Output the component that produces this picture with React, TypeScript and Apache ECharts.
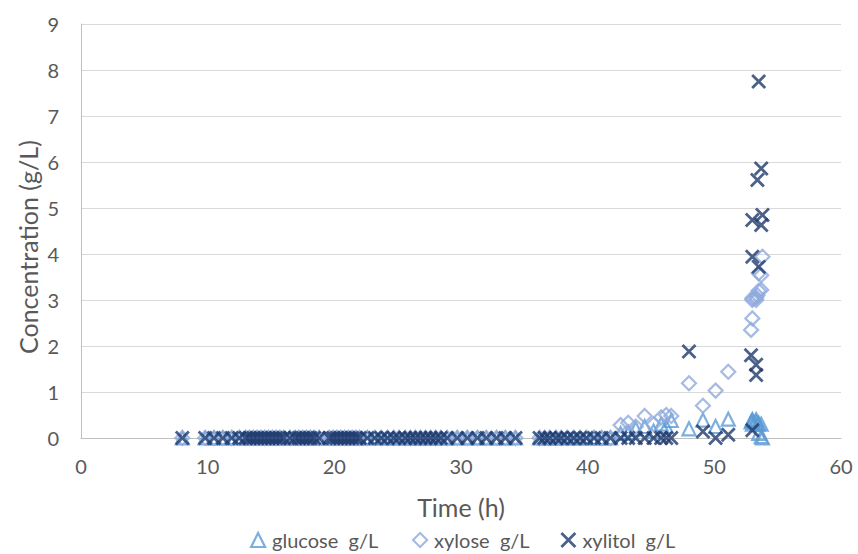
import React, { useEffect, useRef } from "react";
import * as echarts from "echarts";

// Sampling times (h)
const timeH = [
  8.0, 9.8, 10.5, 11.2, 11.9, 12.5, 13.0, 13.3, 13.6, 13.9, 14.2, 14.5, 14.8, 15.1, 15.4, 15.7,
  16.0, 16.5, 16.9, 17.2, 17.5, 17.8, 18.1, 18.4, 18.8, 19.6, 19.9, 20.2, 20.5, 20.8, 21.1, 21.4,
  21.7, 22.0, 22.6, 23.2, 23.7, 24.2, 24.7, 25.1, 25.6, 26.0, 26.4, 26.8, 27.2, 27.6, 28.0, 28.4,
  28.9, 29.7, 30.5, 31.3, 32.0, 32.8, 33.5, 34.3, 36.2, 36.6, 37.0, 37.5, 37.9, 38.4, 38.9, 39.4,
  39.9, 40.5, 41.1, 41.8,
  42.6, 43.2, 43.8, 44.5, 45.2, 45.8, 46.2, 46.6,
  48.0, 49.1, 50.1, 51.1,
  52.9, 53.0, 53.0, 53.0, 53.3, 53.3, 53.4, 53.5, 53.5, 53.7, 53.7, 53.8,
];

const glucose = [
  0, 0, 0, 0, 0, 0, 0, 0, 0, 0, 0, 0, 0, 0, 0, 0,
  0, 0, 0, 0, 0, 0, 0, 0, 0, 0, 0, 0, 0, 0, 0, 0,
  0, 0, 0, 0, 0, 0, 0, 0, 0, 0, 0, 0, 0, 0, 0, 0,
  0, 0, 0, 0, 0, 0, 0, 0, 0, 0, 0, 0, 0, 0, 0, 0,
  0, 0, 0, 0,
  0.1, 0.12, 0.2, 0.25, 0.15, 0.3, 0.25, 0.38,
  0.2, 0.39, 0.25, 0.41,
  0.35, 0.4, 0.38, 0.3, 0.4, 0.35, 0.3, 0.32, 0.1, 0.03, 0.3, 0.0,
];

const xylose = [
  0, 0, 0, 0, 0, 0, 0, 0, 0, 0, 0, 0, 0, 0, 0, 0,
  0, 0, 0, 0, 0, 0, 0, 0, 0, 0, 0, 0, 0, 0, 0, 0,
  0, 0, 0, 0, 0, 0, 0, 0, 0, 0, 0, 0, 0, 0, 0, 0,
  0, 0, 0, 0, 0, 0, 0, 0, 0, 0, 0, 0, 0, 0, 0, 0,
  0, 0, 0, 0,
  0.28, 0.33, 0.25, 0.48, 0.3, 0.45, 0.5, 0.48,
  1.19, 0.7, 1.03, 1.44,
  2.35, 2.6, 3.0, 3.04, 3.0, 3.05, 3.1, 3.58, 3.2, 3.22, 3.54, 3.94,
];

const xylitol = [
  0, 0, 0, 0, 0, 0, 0, 0, 0, 0, 0, 0, 0, 0, 0, 0,
  0, 0, 0, 0, 0, 0, 0, 0, 0, 0, 0, 0, 0, 0, 0, 0,
  0, 0, 0, 0, 0, 0, 0, 0, 0, 0, 0, 0, 0, 0, 0, 0,
  0, 0, 0, 0, 0, 0, 0, 0, 0, 0, 0, 0, 0, 0, 0, 0,
  0, 0, 0, 0,
  0, 0, 0, 0, 0, 0, 0, 0,
  1.88, 0.14, 0.0, 0.07,
  1.8, 0.17, 4.74, 3.94, 1.59, 1.37, 5.61, 3.72, 7.75, 5.86, 4.63, 4.85,
];

const seriesNames = ["glucose  g/L", "xylose  g/L", "xylitol  g/L"];
const xTitle = "Time (h)";
const yTitle = "Concentration (g/L)";
const xTicks = { min: 0, max: 60, interval: 10 };
const yTicks = { min: 0, max: 9, interval: 1 };

const C_GLU = "#5B9BD5";
const C_XYL = "#8FAADC";
const C_XOL = "#1F3A6B";
const CROSS = "path://M0,0L10,10M10,0L0,10";
const FONT = "Lato";
const GREY = "#595959";

function pairs(ys: number[]) {
  return timeH.map((t, i) => [t, ys[i]]);
}

export default function App() {
  const ref = useRef<HTMLDivElement>(null);
  useEffect(() => {
    if (!ref.current) return;
    const chart = echarts.init(ref.current, null, { renderer: "svg" });
    const mk = (name: string, ys: number[], symbol: string, color: string, size: number, bw: number) => ({
      name,
      type: "scatter",
      data: pairs(ys),
      symbol,
      symbolSize: size,
      itemStyle: { color: "rgba(0,0,0,0)", borderColor: color, borderWidth: bw },
      emphasis: { disabled: true },
    });
    const icons = [
      { icon: "triangle", color: C_GLU, bw: 2.2, left: 250 },
      { icon: "diamond", color: C_XYL, bw: 2.2, left: 412 },
      { icon: CROSS, color: C_XOL, bw: 2.8, left: 560 },
    ];
    const legends = icons.map((ic, i) => ({
      top: 530,
      left: ic.left,
      padding: 0,
      itemWidth: 14,
      itemHeight: 14,
      itemGap: 0,
      textStyle: { color: GREY, fontSize: 20, fontFamily: FONT, padding: [0, 0, 0, 2] },
      data: [
        {
          name: seriesNames[i],
          icon: ic.icon,
          itemStyle: { color: "rgba(0,0,0,0)", borderColor: ic.color, borderWidth: ic.bw },
        },
      ],
    }));
    chart.setOption({
      animation: false,
      backgroundColor: "#ffffff",
      textStyle: { fontFamily: FONT },
      grid: { left: 81, right: 17, top: 24, bottom: 116, containLabel: false },
      graphic: [
        {
          type: "text",
          x: 15,
          y: 354,
          rotation: Math.PI / 2,
          style: {
            text: yTitle,
            fill: GREY,
            font: `25px ${FONT}`,
            align: "left",
            verticalAlign: "top",
          },
        },
      ],
      legend: legends,
      xAxis: {
        type: "value",
        ...xTicks,
        name: xTitle,
        nameLocation: "middle",
        nameGap: 56,
        nameTextStyle: { color: GREY, fontSize: 25, fontFamily: FONT },
        axisLine: { show: true, lineStyle: { color: "#BFBFBF", width: 1 } },
        axisTick: { show: false },
        splitLine: { show: false },
        axisLabel: { color: GREY, fontSize: 20, margin: 18, fontFamily: FONT },
      },
      yAxis: {
        type: "value",
        ...yTicks,
        axisLine: { show: true, lineStyle: { color: "#BFBFBF", width: 1 } },
        axisTick: { show: false },
        splitLine: { show: true, lineStyle: { color: "#D9D9D9", width: 1 } },
        axisLabel: { color: GREY, fontSize: 20, margin: 22, fontFamily: FONT },
      },
      series: [
        mk(seriesNames[0], glucose, "triangle", C_GLU, 13, 2.2),
        mk(seriesNames[1], xylose, "diamond", C_XYL, 14, 2.2),
        mk(seriesNames[2], xylitol, CROSS, C_XOL, 13, 2.8),
      ],
    });
    return () => chart.dispose();
  }, []);
  return (
    <div
      ref={ref}
      style={{ position: "absolute", left: 0, top: 0, width: 858, height: 554 }}
    />
  );
}
